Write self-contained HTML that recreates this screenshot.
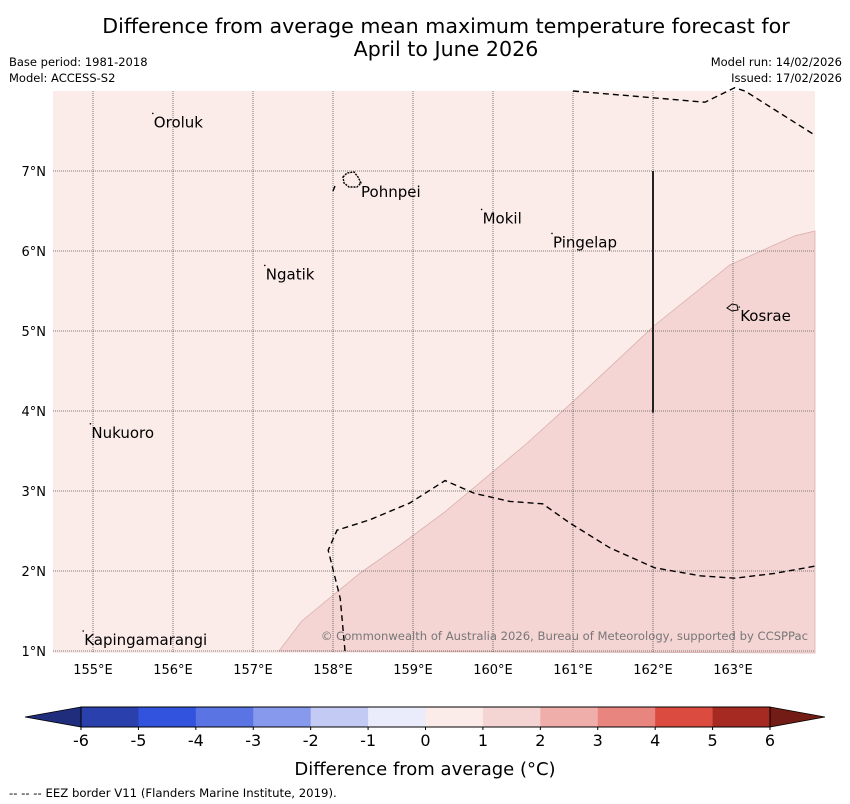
<!DOCTYPE html>
<html><head><meta charset="utf-8">
<style>
html,body{margin:0;padding:0;background:#fff;width:850px;height:804px;overflow:hidden;font-family:"DejaVu Sans","Liberation Sans",sans-serif}
</style></head><body>
<svg id="chart" width="850" height="804" viewBox="0 0 850 804" xmlns="http://www.w3.org/2000/svg">
<text x="446" y="33" text-anchor="middle" font-size="20.6">Difference from average mean maximum temperature forecast for</text>
<text x="446" y="56" text-anchor="middle" font-size="20.6">April to June 2026</text>
<text x="9" y="66" font-size="11.5">Base period: 1981-2018</text>
<text x="9" y="82" font-size="11.5">Model: ACCESS-S2</text>
<text x="842" y="66" font-size="11.5" text-anchor="end">Model run: 14/02/2026</text>
<text x="842" y="82" font-size="11.5" text-anchor="end">Issued: 17/02/2026</text>
<g id="map"></g>
<g id="cbar"></g>
<text x="425" y="775" text-anchor="middle" font-size="18">Difference from average (°C)</text>
<text x="9" y="797" font-size="11.7">--  --  -- EEZ border V11 (Flanders Marine Institute, 2019).</text>
</svg>
<script>
const lonTicks=[155,156,157,158,159,160,161,162,163];
const latTicks=[1,2,3,4,5,6,7];
const warmLon=[157.325,157.61,158.34,158.84,159.4,160.4,161.025,162.025,162.96,163.775,164.025];
const warmLat=[1.0,1.375,1.975,2.325,2.74,3.575,4.14,5.075,5.825,6.19,6.25];
const eezLowLon=[158.15,158.09,157.94,158.05,158.46,158.96,159.4,159.77,160.21,160.62,160.96,161.46,162.02,162.59,163.02,163.52,164.02];
const eezLowLat=[1.0,1.66,2.26,2.51,2.64,2.85,3.13,2.97,2.87,2.84,2.6,2.29,2.04,1.94,1.91,1.97,2.06];
const eezTopLon=[161.0,162.65,163.02,163.15,164.02];
const eezTopLat=[8.0,7.86,8.04,8.0,7.45];
const placeNames=["Oroluk","Pohnpei","Mokil","Pingelap","Ngatik","Kosrae","Nukuoro","Kapingamarangi"];
const placeLon=[155.76,158.35,159.87,160.75,157.16,163.09,154.98,154.89];
const placeLat=[7.72,6.85,6.52,6.22,5.82,5.30,3.84,1.25];
const cbLevels=[-6,-5,-4,-3,-2,-1,0,1,2,3,4,5,6];
const cbColors=["#2a40ad","#3253de","#5a74e4","#8699ec","#c3caf4","#eaebfb","#fbebe9","#f5d5d3","#efaea9","#e8857f","#dc4b40","#a72a22"];
const NS="http://www.w3.org/2000/svg";
const X0=53,X1=815,Y0=91,Y1=653,LON0=154.5,LAT1=8;
const xs=l=>X0+(l-LON0)*80, ys=a=>Y0+(LAT1-a)*80;
function mk(tag,attrs,parent){const e=document.createElementNS(NS,tag);for(const k in attrs)e.setAttribute(k,attrs[k]);parent.appendChild(e);return e;}
const map=document.getElementById('map');
let r=mk('rect',{x:X0,y:Y0,width:X1-X0,height:Y1-Y0,fill:cbColors[6]},map);


let pts=warmLon.map((l,i)=>xs(l)+','+ys(warmLat[i])).join(' ')+' '+X1+','+Y1;
let p=mk('polygon',{points:pts,fill:cbColors[7],stroke:"#d8b0ad","stroke-width":0.8},map);


lonTicks.forEach(l=>{const x=xs(l);
 let g=mk('line',{x1:x,x2:x,y1:Y0,y2:Y1,stroke:"#555","stroke-width":0.8,"stroke-dasharray":"1,1"},map);
 
 
 let t=mk('text',{x:x,y:674,"text-anchor":"middle","font-size":13},map);t.textContent=l+'°E';
 
 });
latTicks.forEach(a=>{const y=ys(a);
 let g=mk('line',{x1:X0,x2:X1,y1:y,y2:y,stroke:"#555","stroke-width":0.8,"stroke-dasharray":"1,1"},map);
 
 
 let t=mk('text',{x:46,y:y+5,"text-anchor":"end","font-size":13},map);t.textContent=a+'°N';
 
 });
[[eezLowLon,eezLowLat,'eez-border-south'],[eezTopLon,eezTopLat,'eez-border-north']].forEach(([lo,la,n])=>{
 let pl=mk('polyline',{points:lo.map((l,i)=>xs(l)+','+ys(la[i])).join(' '),fill:"none",stroke:"#000","stroke-width":1.4,"stroke-dasharray":"6,4"},map);
 
 });
let pd=mk('line',{x1:333,y1:191,x2:335,y2:186,stroke:"#000","stroke-width":1.4},map);


let vl=mk('line',{x1:xs(162),x2:xs(162),y1:ys(7),y2:ys(3.98),stroke:"#222","stroke-width":2},map);


let ph=mk('path',{d:"M343,177 l4,-4 l7,-1 l4,5 l3,6 l-4,4 l-8,0 l-5,-4 z",fill:"none",stroke:"#000","stroke-width":1.4,"stroke-dasharray":"2,1"},map);


let ks=mk('path',{d:"M727,308 l5,-4 l5,1 l1,5 l-6,1 z",fill:"none",stroke:"#000","stroke-width":1},map);


placeNames.forEach((n,i)=>{const x=xs(placeLon[i]),y=ys(placeLat[i]);
 let d=mk('circle',{cx:x-1,cy:y,r:0.8,fill:"#000"},map);
 
 
 let t=mk('text',{x:x,y:y+14,"font-size":15},map);t.textContent=n;
 
 });
let c=mk('text',{x:808,y:640,"text-anchor":"end","font-size":11.6,fill:"#777"},map);
c.textContent="© Commonwealth of Australia 2026, Bureau of Meteorology, supported by CCSPPac";


const cb=document.getElementById('cbar');
const CB0=81,CB1=770,CBY=707,CBH=20;
const cx=v=>CB0+(v-cbLevels[0])/(cbLevels[cbLevels.length-1]-cbLevels[0])*(CB1-CB0);
cbColors.forEach((col,i)=>{
 let b=mk('rect',{x:cx(cbLevels[i]),y:CBY,width:cx(cbLevels[i+1])-cx(cbLevels[i])+0.5,height:CBH,fill:col},cb);
 
 });
let lt=mk('polygon',{points:`${CB0},${CBY} 25,${CBY+CBH/2} ${CB0},${CBY+CBH}`,fill:"#1f2d7c",stroke:"#000","stroke-width":0.8},cb);


let rt=mk('polygon',{points:`${CB1},${CBY} 825,${CBY+CBH/2} ${CB1},${CBY+CBH}`,fill:"#731c16",stroke:"#000","stroke-width":0.8},cb);


let ob=mk('rect',{x:CB0,y:CBY,width:CB1-CB0,height:CBH,fill:"none",stroke:"#000","stroke-width":1},cb);


cbLevels.forEach(v=>{const x=cx(v);
 let tk=mk('line',{x1:x,x2:x,y1:CBY+CBH,y2:CBY+CBH+3,stroke:"#000"},cb);
 
 
 let t=mk('text',{x:x,y:746,"text-anchor":"middle","font-size":16},cb);t.textContent=v;
 
 });
</script>
</body></html>
